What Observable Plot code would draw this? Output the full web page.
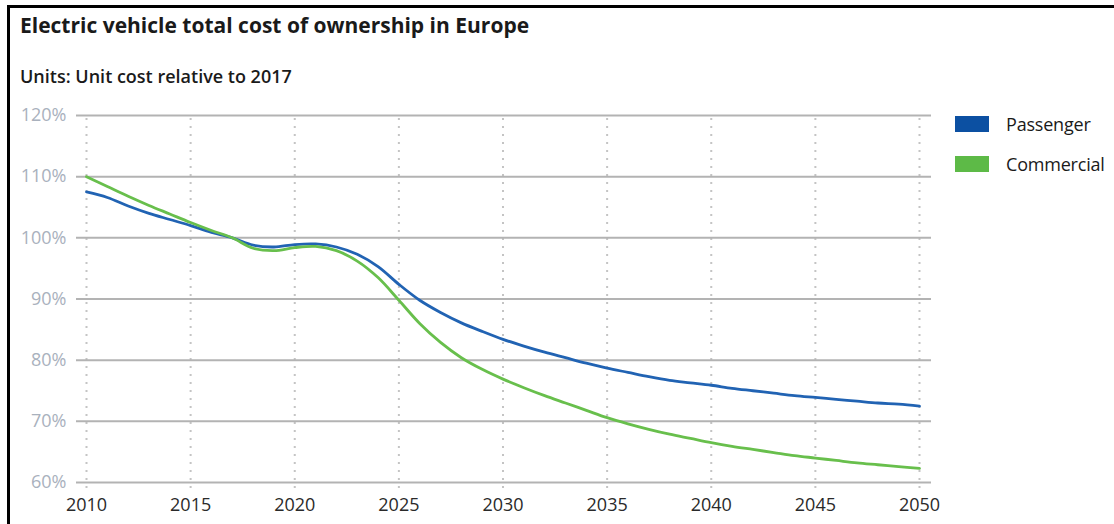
<!DOCTYPE html>
<html><head><meta charset="utf-8">
<script src="https://cdn.jsdelivr.net/npm/d3@7"></script>
<script src="https://cdn.jsdelivr.net/npm/@observablehq/plot@0.6"></script>
<style>
body{margin:0;background:#fff;font-family:"Open Sans",sans-serif;}
#wrap{position:relative;width:1114px;height:524px;overflow:hidden;background:#fff;}
#frameTop{position:absolute;left:7px;top:5px;width:1107px;height:3px;background:#000;}
#frameLeft{position:absolute;left:7px;top:5px;width:3px;height:519px;background:#000;}
#header{position:relative;height:100px;}
#title{position:absolute;left:20px;top:15px;font-size:21px;line-height:21px;font-weight:700;color:#1a1a1a;white-space:nowrap;}
#subtitle{position:absolute;left:20px;top:67px;font-size:18px;line-height:18px;font-weight:600;color:#1a1a1a;white-space:nowrap;}
#legend{position:absolute;left:955px;top:116px;}
.item{position:relative;height:40px;}
.sw{position:absolute;left:0;top:0;width:34px;height:16px;}
.lab{position:absolute;left:51px;top:-1px;font-size:18px;line-height:18px;font-weight:500;color:#1a1a1a;white-space:nowrap;letter-spacing:-0.2px;}
#chart svg{display:block;}
</style></head>
<body>
<div id="wrap">
  <div id="header"><div id="title"></div><div id="subtitle"></div></div>
  <div id="chart"></div>
  <div id="legend"></div>
  <div id="frameTop"></div><div id="frameLeft"></div>
</div>
<script>
const titleText = "Electric vehicle total cost of ownership in Europe";
const subtitleText = "Units: Unit cost relative to 2017";
const seriesNames = ["Passenger", "Commercial"];
const seriesLineColors = ["#2163b3", "#68bf4c"];
const seriesSwatchColors = ["#0c50a2", "#5dba47"];
const years = [2010,2011,2012,2013,2014,2015,2016,2017,2018,2019,2020,2021,2022,2023,2024,2025,2026,2027,2028,2029,2030,2031,2032,2033,2034,2035,2036,2037,2038,2039,2040,2041,2042,2043,2044,2045,2046,2047,2048,2049,2050];
const passenger = [107.5,106.6,105.2,104.0,103.0,102.0,100.9,100.0,98.8,98.5,98.9,99.0,98.5,97.3,95.3,92.4,89.8,87.8,86.1,84.7,83.4,82.3,81.3,80.4,79.5,78.7,78.0,77.3,76.7,76.3,75.9,75.4,75.0,74.6,74.2,73.9,73.6,73.3,73.0,72.8,72.5];
const commercial = [110.0,108.4,106.8,105.3,103.9,102.5,101.2,100.0,98.3,97.9,98.4,98.6,97.9,96.2,93.5,89.8,86.0,82.9,80.4,78.5,76.9,75.5,74.2,73.0,71.8,70.6,69.6,68.7,67.9,67.2,66.5,65.9,65.4,64.9,64.4,64.0,63.6,63.2,62.9,62.6,62.3];
const xTicks = [2010,2015,2020,2025,2030,2035,2040,2045,2050];
const yTicks = [60,70,80,90,100,110,120];

document.getElementById("title").textContent = titleText;
document.getElementById("subtitle").textContent = subtitleText;

const rows = [];
years.forEach((y,i) => {
  rows.push({year:y, value:passenger[i], series:seriesNames[0]});
});
years.forEach((y,i) => {
  rows.push({year:y, value:commercial[i], series:seriesNames[1]});
});

const chart = Plot.plot({
  width: 1114,
  height: 424,
  marginTop: 15,
  marginBottom: 42,
  marginLeft: 86,
  marginRight: 195,
  style: {fontFamily: '"Open Sans", sans-serif', background: "transparent"},
  x: {domain: [2010, 2050]},
  y: {domain: [60, 120]},
  color: {domain: seriesNames, range: seriesLineColors},
  marks: [
    Plot.ruleX(xTicks, {stroke: "#c4c4c4", strokeWidth: 2, strokeDasharray: "2,6", insetTop: 3, insetBottom: -8}),
    Plot.ruleY(yTicks, {stroke: "#b3b3b3", strokeWidth: 2, insetLeft: -10, insetRight: -12}),
    Plot.axisY({ticks: yTicks, tickFormat: d => d + "%", tickSize: 0, tickPadding: 20, fontSize: 18, color: "#a9b1bd", label: null}),
    Plot.axisX({ticks: xTicks, tickFormat: d => String(d), tickSize: 0, tickPadding: 16, fontSize: 18, color: "#2a2a2a", label: null}),
    Plot.line(rows, {x: "year", y: "value", stroke: "series", z: "series", curve: "catmull-rom", strokeWidth: 2.8})
  ]
});
document.getElementById("chart").appendChild(chart);

const legend = document.getElementById("legend");
seriesNames.forEach((name, i) => {
  const item = document.createElement("div");
  item.className = "item";
  const sw = document.createElement("div");
  sw.className = "sw";
  sw.style.background = seriesSwatchColors[i];
  const lab = document.createElement("div");
  lab.className = "lab";
  lab.textContent = name;
  item.appendChild(sw); item.appendChild(lab);
  legend.appendChild(item);
});
</script>
</body></html>
